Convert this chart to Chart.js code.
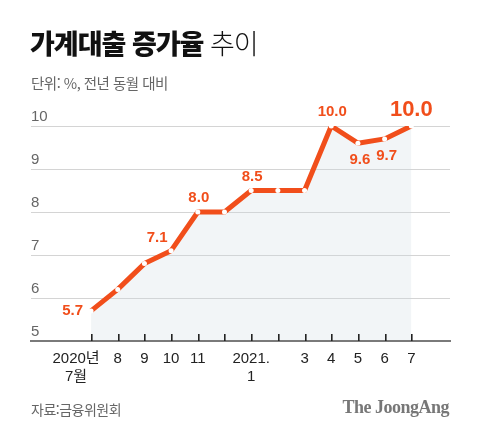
<!DOCTYPE html>
<html lang="ko">
<head>
<meta charset="UTF-8">
<title>가계대출 증가율 추이</title>
<script src="https://cdn.jsdelivr.net/npm/chart.js"></script>
<style>
  html, body { margin: 0; padding: 0; background: #fff; }
  body { width: 480px; height: 436px; position: relative; overflow: hidden;
         font-family: 'Liberation Sans', 'Noto Sans CJK KR', sans-serif; }
  #wrap { position: absolute; left: 0; top: 0; width: 480px; height: 436px; }
  .title { position: absolute; left: 30px; top: 23px; font-size: 27px; color: #111;
           font-family: 'Noto Sans CJK KR', sans-serif; letter-spacing: -1px; }
  .title b { font-weight: 900; }
  .title span { font-weight: 300; }
  .sub { position: absolute; left: 31px; top: 72px; font-size: 14.5px; color: #666;
         font-family: 'Noto Sans CJK KR', sans-serif; letter-spacing: -0.5px; }
  .src { position: absolute; left: 31px; top: 399px; font-size: 14px; color: #666;
         font-family: 'Noto Sans CJK KR', sans-serif; letter-spacing: -0.5px; }
  .logo { position: absolute; right: 31px; top: 397px; font-size: 18px; color: #777;
          font-family: 'Liberation Serif', serif; font-weight: bold; letter-spacing: -0.5px; }
</style>
</head>
<body>
<div id="wrap"><canvas id="chart" width="480" height="436"></canvas></div>
<div class="title"><b>가계대출 증가율</b> <span>추이</span></div>
<div class="sub">단위: %, 전년 동월 대비</div>
<div class="src">자료:금융위원회</div>
<div class="logo">The JoongAng</div>

<script>
// months from 2020.7 to 2021.7
const monthLabels = [['2020년', '7월'], '8', '9', '10', '11', '', ['2021.', '1'], '', '3', '4', '5', '6', '7'];
const growthRate = [5.7, 6.2, 6.8, 7.1, 8.0, 8.0, 8.5, 8.5, 8.5, 10.0, 9.6, 9.7, 10.0];
const yTicks = [5, 6, 7, 8, 9, 10];

const ORANGE = '#f14e1b';

// where each value label goes (null = no label)
const labelPlace = ['left', null, null, 'aboveLeft', 'above', null, 'above', null, null, 'above', 'below', 'below', 'big'];

const points = growthRate.map((v, i) => ({ x: i, y: v }));

// first label sits a bit left of its tick, pad it with en spaces
const PAD = '\u2002\u2002\u2002\u2002';
const tickText = i => {
  const m = monthLabels[i];
  if (i === 0) return m.map(s => s + PAD);
  return m;
};

const valueLabels = {
  id: 'valueLabels',
  afterDraw(chart) {
    const ctx = chart.ctx;
    const xs = chart.scales.x, ys = chart.scales.y;
    const base = ys.getPixelForValue(5);
    ctx.save();

    // small tick marks pointing up from the axis
    ctx.fillStyle = '#222';
    for (let i = 0; i < monthLabels.length; i++) {
      ctx.fillRect(Math.round(xs.getPixelForValue(i)), base - 7, 1.6, 7);
    }

    ctx.fillStyle = ORANGE;
    growthRate.forEach((v, i) => {
      const p = labelPlace[i];
      if (!p) return;
      const x = xs.getPixelForValue(i);
      const y = ys.getPixelForValue(v);
      const txt = v.toFixed(1);
      ctx.font = 'bold 15px "Liberation Sans", sans-serif';
      ctx.textBaseline = 'middle';
      ctx.textAlign = 'center';
      if (p === 'left') {
        ctx.textAlign = 'right';
        ctx.fillText(txt, x - 8, y);
      } else if (p === 'aboveLeft') {
        ctx.fillText(txt, x - 14, y - 13);
      } else if (p === 'above') {
        ctx.fillText(txt, x + 1, y - 14);
      } else if (p === 'below') {
        ctx.fillText(txt, x + 2, y + 17);
      } else if (p === 'big') {
        ctx.font = 'bold 22px "Liberation Sans", sans-serif';
        ctx.fillText(txt, x, y - 16);
      }
    });
    ctx.restore();
  }
};

new Chart(document.getElementById('chart'), {
  type: 'line',
  data: {
    datasets: [{
      data: points,
      borderColor: ORANGE,
      borderWidth: 5,
      borderJoinStyle: 'round',
      fill: 'start',
      backgroundColor: 'rgba(205,215,222,0.25)',
      pointRadius: 2.5,
      pointBackgroundColor: '#fff',
      pointBorderWidth: 0,
      tension: 0
    }]
  },
  options: {
    responsive: false,
    animation: false,
    events: [],
    layout: { padding: { left: 31, right: 30, top: 126, bottom: 45 } },
    plugins: { legend: { display: false }, tooltip: { enabled: false } },
    scales: {
      x: {
        type: 'linear',
        min: -2.25,
        max: 13.45,
        afterBuildTicks: s => { s.ticks = monthLabels.map((m, i) => ({ value: i })); },
        afterFit: s => { s.height = 50; },
        grid: { display: false },
        border: { display: true, color: '#7a7a7a', width: 2, z: 1 },
        ticks: {
          autoSkip: false,
          maxRotation: 0,
          padding: 0,
          color: '#222',
          font: { size: 15, family: "'Liberation Sans', 'Noto Sans CJK KR', sans-serif", lineHeight: 1.25 },
          callback: v => tickText(v)
        }
      },
      y: {
        min: 5,
        max: 10,
        afterBuildTicks: s => { s.ticks = yTicks.map(v => ({ value: v })); },
        afterFit: s => { s.width = 0; },
        grid: {
          color: c => (c.tick && c.tick.value === 5 ? 'rgba(0,0,0,0)' : '#d4d4d4'),
          lineWidth: 1,
          drawTicks: false
        },
        border: { display: false },
        ticks: {
          mirror: true,
          padding: 0,
          labelOffset: -9,
          color: '#666',
          font: { size: 15, family: "'Liberation Sans', sans-serif" }
        }
      }
    }
  },
  plugins: [valueLabels]
});
</script>
</body>
</html>
